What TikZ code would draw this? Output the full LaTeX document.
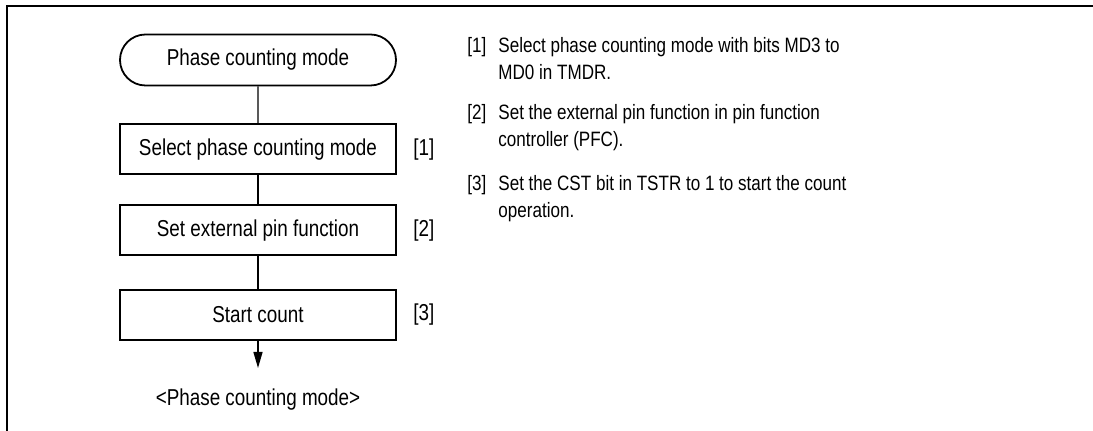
\documentclass[tikz,border=0pt]{standalone}
\usepackage{fontspec}
\setmainfont{Liberation Sans}[FakeStretch=0.82]
\usepackage{tikz}
\usetikzlibrary{positioning, arrows.meta, shapes.misc}

\begin{document}
\begin{tikzpicture}[x=0.5pt, y=-0.5pt, font=\fontsize{11.5}{14}\selectfont,
    flowstep/.style={draw, line width=0.9pt, minimum width=138pt, minimum height=25pt, inner sep=0pt},
    flowterm/.style={flowstep, rounded rectangle, minimum height=25.5pt},
    flowline/.style={line width=0.7pt},
    steptag/.style={inner sep=0pt},
    notetext/.style={font=\fontsize{10.4}{13.5}\selectfont, inner sep=0pt, anchor=base west, align=left}]
  \useasboundingbox (0,0) rectangle (1093,431);
  % frame
  \draw[line width=1.2pt] (7,431) |- (1093,6);

  % flow chart
  \node[flowterm] (start) at (258,60) {Phase counting mode};
  \node[flowstep, below=18.5pt of start] (select) {Select phase counting mode};
  \node[flowstep, below=14.5pt of select] (pinfunc) {Set external pin function};
  \node[flowstep, below=16.5pt of pinfunc] (startcnt) {Start count};
  \node[steptag, right=8pt of select] (tag1) {[1]};
  \node[steptag, right=8pt of pinfunc] (tag2) {[2]};
  \node[steptag, right=8pt of startcnt] (tag3) {[3]};
  \coordinate (flowend) at (258,368);
  \node (endlabel) at (258,400) {<Phase counting mode>};

  \draw[flowline] (start) -- (select);
  \draw[flowline] (select) -- (pinfunc);
  \draw[flowline] (pinfunc) -- (startcnt);
  \draw[flowline, -{Triangle[length=8pt, width=4.5pt]}] (startcnt) -- (flowend);

  % notes (base = last line)
  \node[notetext] (ref1) at (467,53) {[1]};
  \node[notetext] (note1) at (498,80) {Select phase counting mode with bits MD3 to\\MD0 in TMDR.};
  \node[notetext] (ref2) at (467,120) {[2]};
  \node[notetext] (note2) at (498,147) {Set the external pin function in pin function\\controller (PFC).};
  \node[notetext] (ref3) at (467,191) {[3]};
  \node[notetext] (note3) at (498,218) {Set the CST bit in TSTR to 1 to start the count\\operation.};
\end{tikzpicture}
\end{document}
